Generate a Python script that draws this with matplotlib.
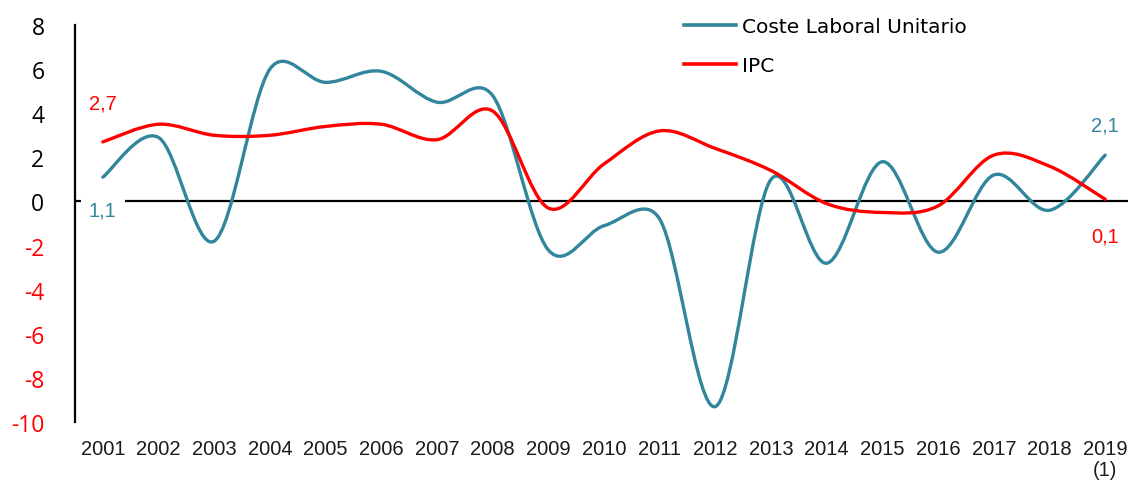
import numpy as np
import matplotlib.pyplot as plt
from matplotlib.path import Path
from matplotlib.patches import PathPatch
from matplotlib.lines import Line2D

# Datos
anios = ['2001', '2002', '2003', '2004', '2005', '2006', '2007', '2008', '2009', '2010',
         '2011', '2012', '2013', '2014', '2015', '2016', '2017', '2018', '2019\n(1)']
clu = [1.1, 2.9, -1.8, 6.0, 5.4, 5.9, 4.5, 4.8, -2.2, -1.1,
       -0.8, -9.3, 1.0, -2.8, 1.8, -2.3, 1.2, -0.4, 2.1]
ipc = [2.7, 3.5, 3.0, 3.0, 3.4, 3.5, 2.8, 4.1, -0.3, 1.7,
       3.2, 2.4, 1.4, -0.1, -0.5, -0.2, 2.1, 1.6, 0.1]

color_clu = '#31859C'
color_ipc = '#FF0000'


def curva_suave(ax, x, y):
    # linea suavizada tipo Excel (Bezier cubica, limitada por la longitud del tramo)
    pts = np.column_stack([x, y]).astype(float)
    px = ax.transData.transform(pts)
    ext = np.vstack([pts[0], pts, pts[-1]])
    epx = np.vstack([px[0], px, px[-1]])
    verts = [pts[0]]
    codes = [Path.MOVETO]
    for i in range(len(pts) - 1):
        p0, p1, p2, p3 = ext[i], ext[i + 1], ext[i + 2], ext[i + 3]
        q0, q1, q2, q3 = epx[i], epx[i + 1], epx[i + 2], epx[i + 3]
        d12 = np.hypot(*(q2 - q1))
        d02 = np.hypot(*(q2 - q0))
        d13 = np.hypot(*(q3 - q1))
        f1 = 1 / 6 if d02 == 0 else min(1 / 6, d12 / (2 * d02))
        f2 = 1 / 6 if d13 == 0 else min(1 / 6, d12 / (2 * d13))
        verts += [p1 + (p2 - p0) * f1, p2 - (p3 - p1) * f2, p2]
        codes += [Path.CURVE4] * 3
    return Path(verts, codes)


x = np.arange(len(anios))

fig = plt.figure(figsize=(11.28, 4.89), dpi=100)
ax = fig.add_axes([75 / 1128, 66 / 489, 1053 / 1128, 397 / 489])
ax.set_xlim(-0.5, 18.41)
ax.set_ylim(-10, 8)

ax.axhline(0, color='black', lw=1.6, zorder=1)

ax.add_patch(PathPatch(curva_suave(ax, x, clu), fc='none', ec=color_clu, lw=2.4,
                       capstyle='round', zorder=3))
ax.add_patch(PathPatch(curva_suave(ax, x, ipc), fc='none', ec=color_ipc, lw=2.4,
                       capstyle='round', zorder=3))

for s in ['top', 'right', 'bottom']:
    ax.spines[s].set_visible(False)
ax.spines['left'].set_linewidth(1.6)

yt = list(range(-10, 9, 2))
ax.set_yticks(yt)
ax.set_yticklabels([str(v) for v in yt], fontsize=16.5, family='Open Sans')
for lbl, v in zip(ax.get_yticklabels(), yt):
    lbl.set_color(color_ipc if v < 0 else 'black')
ax.tick_params(axis='y', length=0, pad=22)

ax.set_xticks(x)
ax.set_xticklabels(anios, fontsize=14.5, family='Liberation Sans', color='#1a1a1a',
                   linespacing=1.15, va='top')
ax.tick_params(axis='x', length=0, pad=12)

# etiquetas de valores
fs = 14.5
ax.text(x[0], ipc[0] + 1.77, '2,7', color=color_ipc, fontsize=fs, family='Liberation Sans',
        ha='center', va='center')
ax.text(x[0], clu[0] - 1.5, '1,1', color=color_clu, fontsize=fs, family='Liberation Sans',
        ha='center', va='center', bbox=dict(fc='white', ec='none', pad=6), zorder=2)
ax.text(x[-1], clu[-1] + 1.37, '2,1', color=color_clu, fontsize=fs, family='Liberation Sans',
        ha='center', va='center')
ax.text(x[-1], ipc[-1] - 1.65, '0,1', color=color_ipc, fontsize=fs, family='Liberation Sans',
        ha='center', va='center')

handles = [Line2D([], [], color=color_clu, lw=2.6),
           Line2D([], [], color=color_ipc, lw=2.6)]
fig.legend(handles, ['Coste Laboral Unitario', 'IPC'], loc='upper left',
           bbox_to_anchor=(666 / 1128, 1.0), frameon=False,
           handlelength=2.6, handletextpad=0.25, labelspacing=1.0,
           prop={'family': 'DejaVu Sans', 'size': 14.5})

fig.savefig('out.png', dpi=100)
